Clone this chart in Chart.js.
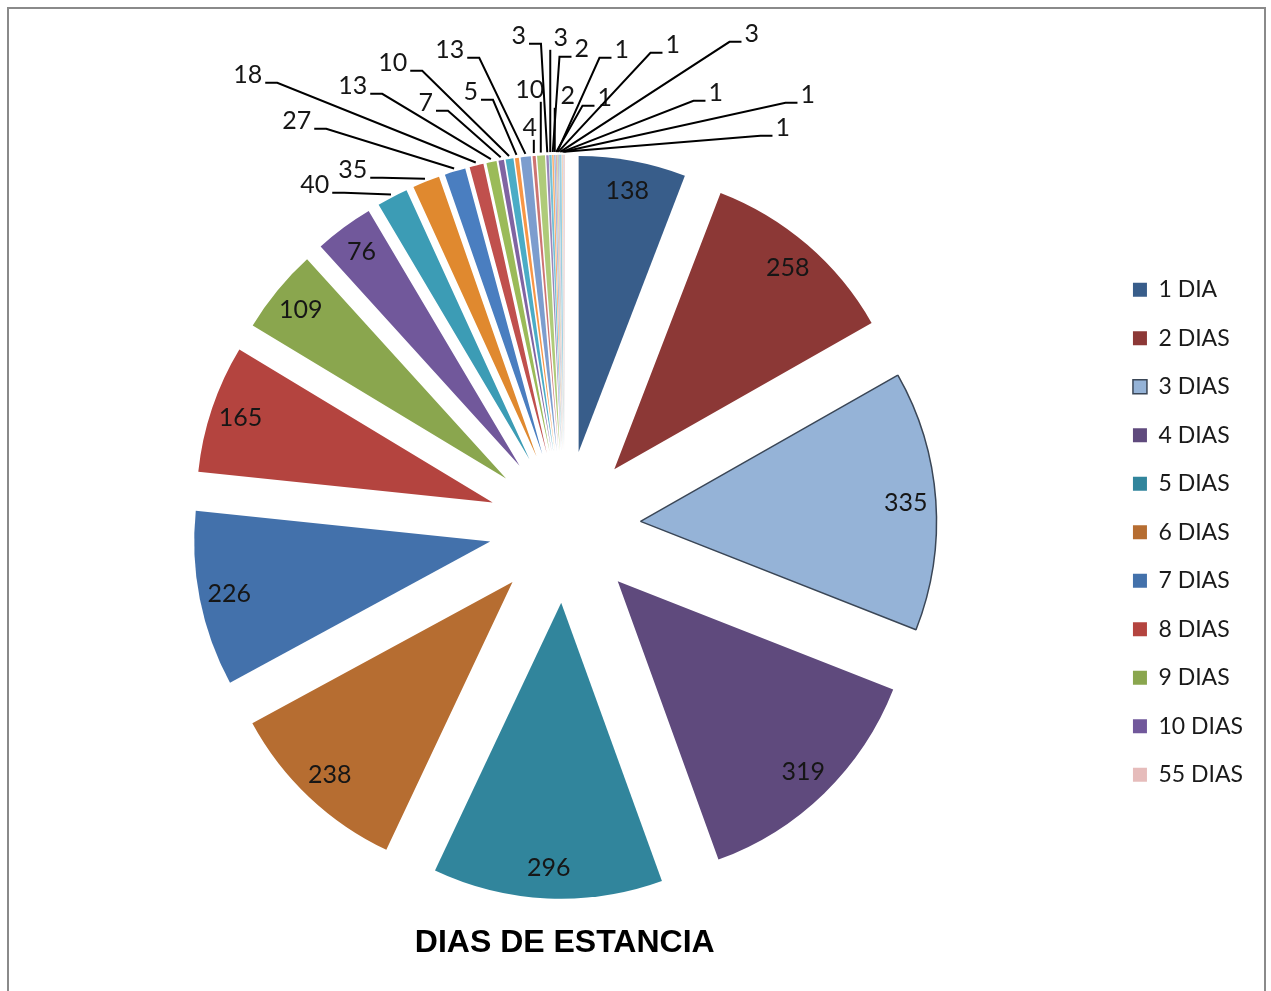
<!DOCTYPE html>
<html>
<head>
<meta charset="utf-8">
<title>Dias de estancia</title>
<script src="https://cdn.jsdelivr.net/npm/chart.js@4.4.0/dist/chart.umd.min.js"></script>
<style>
  html, body { margin: 0; padding: 0; background: #fff; }
  #frame {
    position: absolute; left: 7px; top: 7px; width: 1255px; height: 1010px;
    border: 2px solid #8a8a8a; border-bottom: none;
  }
  #chart { position: absolute; left: 0; top: 0; }
</style>
</head>
<body>
<div id="frame"></div>
<canvas id="chart" width="1271" height="991"></canvas>
<script>
// ------------------------------------------------------------
// Dias de estancia: exploded pie with callout labels
// ------------------------------------------------------------

const categorias = [
  "1 DIA", "2 DIAS", "3 DIAS", "4 DIAS", "5 DIAS", "6 DIAS", "7 DIAS", "8 DIAS",
  "9 DIAS", "10 DIAS", "11 DIAS", "12 DIAS", "13 DIAS", "14 DIAS", "15 DIAS", "16 DIAS",
  "17 DIAS", "18 DIAS", "19 DIAS", "20 DIAS", "21 DIAS", "22 DIAS", "23 DIAS", "24 DIAS",
  "25 DIAS", "26 DIAS", "27 DIAS", "28 DIAS", "29 DIAS", "30 DIAS", "31 DIAS", "55 DIAS"
];

const pacientes = [
  138, 258, 335, 319, 296, 238, 226, 165,
  109, 76, 40, 35, 27, 18, 13, 7,
  10, 5, 13, 4, 10, 3, 3, 2,
  2, 1, 1, 1, 3, 1, 1, 1
];

const colores = [
  "#385d8a", "#8c3836", "#95b3d7", "#5f4a7d", "#31859c", "#b66d31", "#4371ab", "#b4443f",
  "#8aa64e", "#71589b", "#3c9cb5", "#e0892f", "#4a7ec0", "#c0504d", "#9bbb59", "#8064a2",
  "#4bacc6", "#f79646", "#7c9dce", "#cd7472", "#afcb79", "#9a86b8", "#72c0d4", "#f9ae70",
  "#a2bce0", "#d99896", "#c3d79d", "#b5a8ca", "#9acfdf", "#fbc49a", "#c6d4ea", "#e6bcbb"
];

// only "3 DIAS" carries an outline
const bordes = pacientes.map((v, i) => (i === 2 ? 1.5 : 0));

// where the small slices put their value (offset from pie centre), from index 10 on
const callouts = [
  [-250, -342], [-212, -357], [-268, -406], [-317, -452], [-212, -441], [-139, -424],
  [-172, -464], [-94, -435], [-115, -477], [-35, -399], [-35, -437], [-46, -491],
  [-4, -489], [17, -478], [3, -431], [40, -429], [57, -477], [108, -482],
  [187, -493], [151, -434], [243, -432], [218, -399]
];
const FIRST_CALLOUT = 10;

const RADIUS = 296;
const SHIFT = 76;             // how far every slice is pulled out of the centre

const labelFont = "25px Lato";

// explode: move each arc's centre out along its own bisector
const explode = {
  id: "explode",
  afterDatasetUpdate(chart, args) {
    args.meta.data.forEach((arc) => {
      const mid = (arc.startAngle + arc.endAngle) / 2;
      arc.x += Math.cos(mid) * SHIFT;
      arc.y += Math.sin(mid) * SHIFT;
    });
  }
};

// value labels, inside the big slices and with leader lines for the rest
const sliceLabels = {
  id: "sliceLabels",
  afterDatasetsDraw(chart) {
    const ctx = chart.ctx;
    const arcs = chart.getDatasetMeta(0).data;
    ctx.save();
    ctx.font = labelFont;
    ctx.fillStyle = "#161616";
    ctx.strokeStyle = "#000";
    ctx.lineWidth = 2;
    ctx.textAlign = "center";
    ctx.textBaseline = "middle";

    arcs.forEach((arc, i) => {
      const mid = (arc.startAngle + arc.endAngle) / 2;
      const ux = Math.cos(mid), uy = Math.sin(mid);
      const cx = arc.x - ux * SHIFT, cy = arc.y - uy * SHIFT;
      const text = String(pacientes[i]);

      if (i < FIRST_CALLOUT) {
        ctx.fillText(text, arc.x + ux * (RADIUS - 30), arc.y + uy * (RADIUS - 30));
        return;
      }

      const [dx, dy] = callouts[i - FIRST_CALLOUT];
      const lx = cx + dx, ly = cy + dy;
      const tx = arc.x + ux * (RADIUS + 3), ty = arc.y + uy * (RADIUS + 3);
      const half = ctx.measureText(text).width / 2;

      ctx.beginPath();
      if (lx + half + 3 < tx - 8) {
        ctx.moveTo(lx + half + 3, ly + 8);
        ctx.lineTo(lx + half + 15, ly + 8);
        ctx.lineTo(tx, ty);
      } else if (lx - half - 3 > tx + 8) {
        ctx.moveTo(lx - half - 3, ly + 8);
        ctx.lineTo(lx - half - 15, ly + 8);
        ctx.lineTo(tx, ty);
      } else {
        ctx.moveTo(tx, ly + 12);
        ctx.lineTo(tx, ty);
      }
      ctx.stroke();
      ctx.fillText(text, lx, ly);
    });
    ctx.restore();
  }
};

const chart = new Chart(document.getElementById("chart"), {
  type: "pie",
  data: {
    labels: categorias,
    datasets: [{
      data: pacientes,
      backgroundColor: colores,
      borderColor: "#3a4656",
      borderWidth: bordes,
      hoverOffset: 0,
      radius: RADIUS
    }]
  },
  options: {
    responsive: false,
    animation: false,
    events: [],
    layout: { padding: { left: 22, right: 18, top: 138, bottom: 21 } },
    plugins: {
      tooltip: { enabled: false },
      legend: {
        position: "right",
        fullSize: false,
        // empty title, only used to nudge the list down a little
        title: { display: true, text: "", font: { size: 5 }, padding: 2.5 },
        labels: {
          font: { family: "Lato", size: 23 },
          color: "#1a1a1a",
          boxWidth: 14,
          boxHeight: 14,
          padding: 25.5,
          filter: (item) => item.index < 10 || item.index === categorias.length - 1
        }
      },
      title: {
        display: true,
        position: "bottom",
        fullSize: false,
        text: "DIAS DE ESTANCIA",
        color: "#000",
        font: { family: "Liberation Sans", size: 32, weight: "bold" },
        padding: { top: 8, bottom: 8 }
      }
    }
  },
  plugins: [explode, sliceLabels]
});
</script>
</body>
</html>
